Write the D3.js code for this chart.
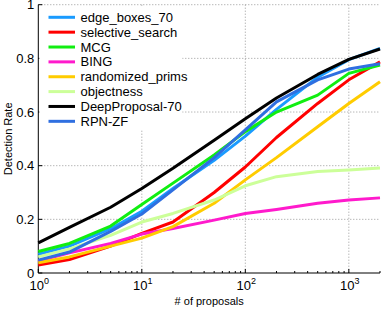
<!DOCTYPE html>
<html><head><meta charset="utf-8">
<script src="https://cdn.jsdelivr.net/npm/d3@7"></script>
<style>body{margin:0;background:#fff}svg{display:block;font-family:"Liberation Sans",Arial,sans-serif}</style>
</head><body><svg id="c" width="382" height="309"></svg>
<script>
const proposals = [1, 2, 5, 10, 20, 50, 100, 200, 500, 1000, 2000];
const seriesNames = ["edge_boxes_70","selective_search","MCG","BING","randomized_prims","objectness","DeepProposal-70","RPN-ZF"];
const edgeBoxes = [0.07,0.10,0.165,0.23,0.315,0.42,0.51,0.61,0.73,0.795,0.837];
const selectiveSearch = [0.03,0.05,0.10,0.148,0.19,0.30,0.395,0.505,0.632,0.72,0.787];
const mcg = [0.08,0.11,0.175,0.255,0.335,0.44,0.527,0.60,0.663,0.744,0.775];
const bing = [0.045,0.075,0.11,0.145,0.166,0.197,0.222,0.237,0.26,0.272,0.28];
const randomizedPrims = [0.038,0.06,0.10,0.13,0.173,0.26,0.347,0.43,0.545,0.632,0.713];
const objectness = [0.06,0.09,0.14,0.19,0.222,0.272,0.325,0.359,0.378,0.384,0.391];
const deepProposal = [0.112,0.17,0.245,0.315,0.39,0.495,0.575,0.652,0.74,0.796,0.835];
const rpnZf = [0.048,0.078,0.155,0.22,0.31,0.43,0.533,0.638,0.72,0.76,0.78];
const yTicks = [0, 0.2, 0.4, 0.6, 0.8, 1];
const xTicks = [1, 10, 100, 1000];
const colors = ["#1a9bff","#ff0000","#11ee11","#ff1acc","#ffcc00","#ccff99","#000000","#2f6fe0"];
const allSeries = [edgeBoxes, selectiveSearch, mcg, bing, randomizedPrims, objectness, deepProposal, rpnZf];

const svg = d3.select("#c");
const L = 38.3, R = 380, T = 4.7, B = 273;
const x = d3.scaleLog().domain([1, 2000]).range([L, R]);
const y = d3.scaleLinear().domain([0, 1]).range([B, T]);

// grid
const g = svg.append("g");
yTicks.filter(d => d > 0).forEach(v => {
  g.append("line").attr("x1", L).attr("x2", R).attr("y1", y(v)).attr("y2", y(v))
   .attr("stroke", "#999").attr("stroke-width", 1).attr("stroke-dasharray", "1,2");
});
xTicks.filter(d => d > 1).forEach(v => {
  g.append("line").attr("x1", x(v)).attr("x2", x(v)).attr("y1", T).attr("y2", B)
   .attr("stroke", "#999").attr("stroke-width", 1).attr("stroke-dasharray", "1,2");
});

// axes lines
svg.append("line").attr("x1", L).attr("x2", L).attr("y1", T).attr("y2", B).attr("stroke", "#000");
svg.append("line").attr("x1", L).attr("x2", R).attr("y1", B).attr("y2", B).attr("stroke", "#000");

// y ticks
yTicks.forEach(v => {
  svg.append("line").attr("x1", L).attr("x2", L + 4).attr("y1", y(v)).attr("y2", y(v)).attr("stroke", "#000");
  svg.append("text").attr("x", L - 4).attr("y", y(v) + 4.5).attr("text-anchor", "end")
    .attr("font-size", 13).text(v === 0 ? "0" : v === 1 ? "1" : d3.format(".1f")(v));
});
// x ticks major + minor
const minor = [];
for (let e = 0; e < 4; e++) for (let k = 1; k < 10; k++) { const v = k * Math.pow(10, e); if (v <= 2000) minor.push(v); }
minor.forEach(v => {
  const major = xTicks.includes(v);
  svg.append("line").attr("x1", x(v)).attr("x2", x(v)).attr("y1", B).attr("y2", B - (major ? 4 : 2)).attr("stroke", "#000");
});
xTicks.forEach(v => {
  const e = Math.round(Math.log10(v));
  const t = svg.append("text").attr("x", x(v) + 1).attr("y", 290).attr("text-anchor", "middle").attr("font-size", 13);
  t.append("tspan").text("10");
  t.append("tspan").attr("dy", -6).attr("font-size", 9).text(String(e));
});

// lines
const line = d3.line().x((d, i) => x(proposals[i])).y(d => y(d));
allSeries.forEach((s, i) => {
  svg.append("path").attr("d", line(s)).attr("fill", "none").attr("stroke", colors[i])
    .attr("stroke-width", 3).attr("stroke-linejoin", "round");
});

// legend
svg.append("rect").attr("x", L + 1).attr("y", T + 1.5).attr("width", 143).attr("height", 124).attr("fill", "#fff");
seriesNames.forEach((n, i) => {
  const yy = 17.3 + i * 14.86;
  svg.append("line").attr("x1", 48.5).attr("x2", 75).attr("y1", yy).attr("y2", yy)
    .attr("stroke", colors[i]).attr("stroke-width", 3);
  svg.append("text").attr("x", 80.5).attr("y", yy + 4.5).attr("font-size", 13).text(n);
});

// labels
svg.append("text").attr("transform", `translate(12,${(T + B) / 2}) rotate(-90)`)
  .attr("text-anchor", "middle").attr("font-size", 11).text("Detection Rate");
svg.append("text").attr("x", (L + R) / 2).attr("y", 305).attr("text-anchor", "middle")
  .attr("font-size", 11).text("# of proposals");
</script></body></html>
